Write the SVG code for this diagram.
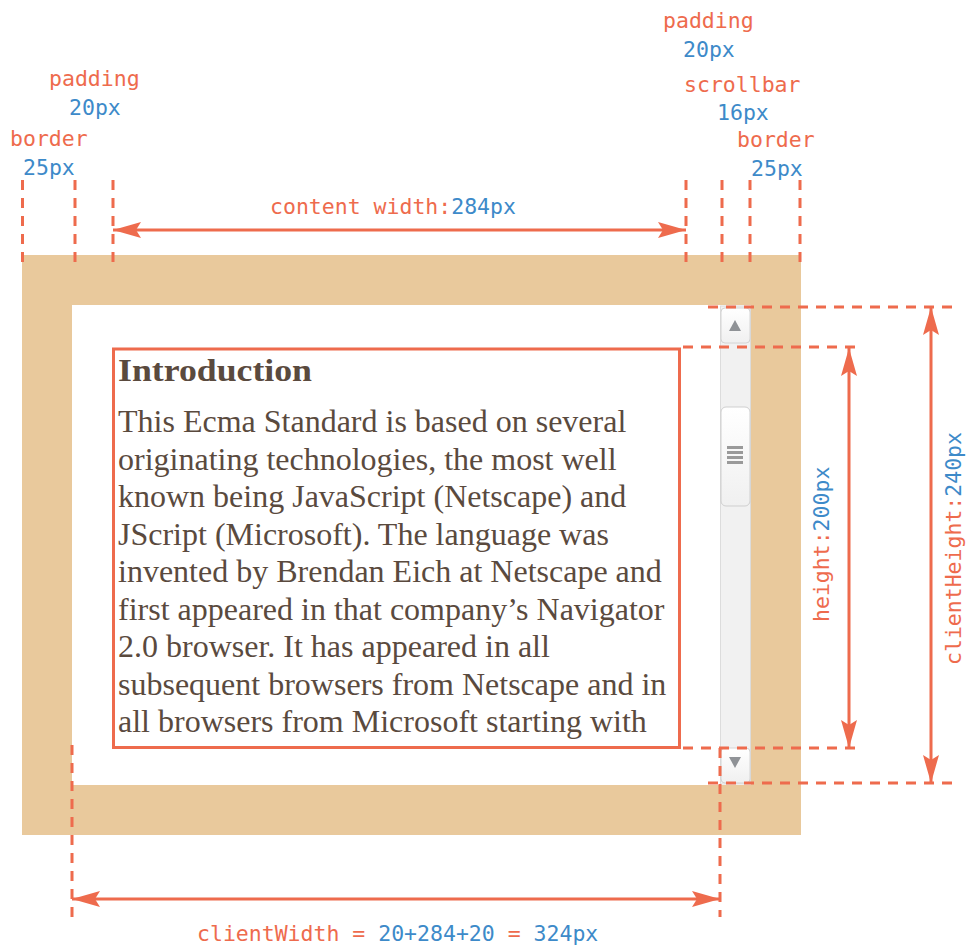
<svg xmlns="http://www.w3.org/2000/svg" width="966" height="945" viewBox="0 0 966 945">
<style>
.o{fill:#ee6b4d}
.b{fill:#3d8ac9}
.lbl{font-family:"DejaVu Sans Mono","Liberation Mono",monospace;font-size:21.5px}
.dash{stroke:#ee6b4d;stroke-width:3;stroke-dasharray:10 8;fill:none}
.arr{stroke:#ee6b4d;stroke-width:3;fill:none;marker-start:url(#ah);marker-end:url(#ah)}
.body{font-family:"Liberation Serif","Times New Roman",serif;font-size:32px;fill:#5a4a3e}
</style>
<defs>
<marker id="ah" viewBox="0 0 28 18" refX="28" refY="9" markerWidth="28" markerHeight="18" orient="auto-start-reverse" markerUnits="userSpaceOnUse">
<path d="M0,1 L28,9 L0,17 L5,9 Z" fill="#ee6b4d"/>
</marker>
<linearGradient id="btn" x1="0" y1="0" x2="0" y2="1">
<stop offset="0" stop-color="#ffffff"/>
<stop offset="1" stop-color="#f0f0f0"/>
</linearGradient>
</defs>
<rect width="966" height="945" fill="#ffffff"/>

<g id="box">
<rect x="22" y="255" width="779" height="580" fill="#e9c99c"/>
<rect x="72" y="305" width="679" height="480" fill="#ffffff"/>
</g>

<g id="scrollbar">
<rect x="720.5" y="306" width="30" height="478" fill="#f1f1f1" stroke="#dcdcdc" stroke-width="1"/>
<rect x="721" y="308" width="29" height="35" rx="4" fill="url(#btn)" stroke="#d4d4d4"/>
<path d="M729,331 L741,331 L735,320 Z" fill="#8f9296"/>
<rect x="721" y="407" width="29" height="99" rx="5" fill="url(#btn)" stroke="#cfcfcf"/>
<g fill="#9a9a9a">
<rect x="727" y="446" width="16" height="3"/>
<rect x="727" y="451" width="16" height="3"/>
<rect x="727" y="456" width="16" height="3"/>
<rect x="727" y="461" width="16" height="3"/>
</g>
<rect x="721" y="748" width="29" height="35" rx="4" fill="url(#btn)" stroke="#d4d4d4"/>
<path d="M729,757 L741,757 L735,768 Z" fill="#8f9296"/>
</g>

<g id="content">
<rect x="113.5" y="349" width="566" height="398.5" fill="none" stroke="#ee6b4d" stroke-width="3"/>
<text x="118" y="381" class="body" font-weight="bold" font-size="37" textLength="194" lengthAdjust="spacingAndGlyphs">Introduction</text>
<text class="body">
<tspan x="118" y="432">This Ecma Standard is based on several</tspan>
<tspan x="118" y="469.5">originating technologies, the most well</tspan>
<tspan x="118" y="507">known being JavaScript (Netscape) and</tspan>
<tspan x="118" y="544.5">JScript (Microsoft). The language was</tspan>
<tspan x="118" y="582">invented by Brendan Eich at Netscape and</tspan>
<tspan x="118" y="619.5">first appeared in that company’s Navigator</tspan>
<tspan x="118" y="657">2.0 browser. It has appeared in all</tspan>
<tspan x="118" y="694.5">subsequent browsers from Netscape and in</tspan>
<tspan x="118" y="732">all browsers from Microsoft starting with</tspan>
</text>
</g>

<g id="connectors">
<path class="dash" d="M22.5,180 V262 M75,180 V262 M113,180 V262 M686,180 V262 M722,180 V262 M750,180 V262 M800,180 V262"/>
<path class="dash" d="M708,307 H954 M683,347 H856 M683,748 H856 M708,783 H954"/>
<path class="dash" d="M72,745 V917 M720,748 V917"/>
<path class="arr" d="M113,230 H686"/>
<path class="arr" d="M849,348 V748"/>
<path class="arr" d="M931,307 V783"/>
<path class="arr" d="M72,899 H720"/>
</g>

<g id="labels" class="lbl">
<text x="49" y="86" class="o">padding</text>
<text x="69" y="115" class="b">20px</text>
<text x="10" y="146" class="o">border</text>
<text x="23" y="175" class="b">25px</text>
<text x="663" y="28" class="o">padding</text>
<text x="683" y="57" class="b">20px</text>
<text x="684" y="92" class="o">scrollbar</text>
<text x="717" y="120" class="b">16px</text>
<text x="737" y="147" class="o">border</text>
<text x="751" y="176" class="b">25px</text>
<text x="270" y="214" class="o">content width:<tspan class="b">284px</tspan></text>
<text transform="translate(829,622) rotate(-90)" class="o">height:<tspan class="b">200px</tspan></text>
<text transform="translate(961,665) rotate(-90)" class="o">clientHeight:<tspan class="b">240px</tspan></text>
<text x="197" y="941" class="o">clientWidth = <tspan class="b">20+284+20</tspan> = <tspan class="b">324px</tspan></text>
</g>
</svg>
